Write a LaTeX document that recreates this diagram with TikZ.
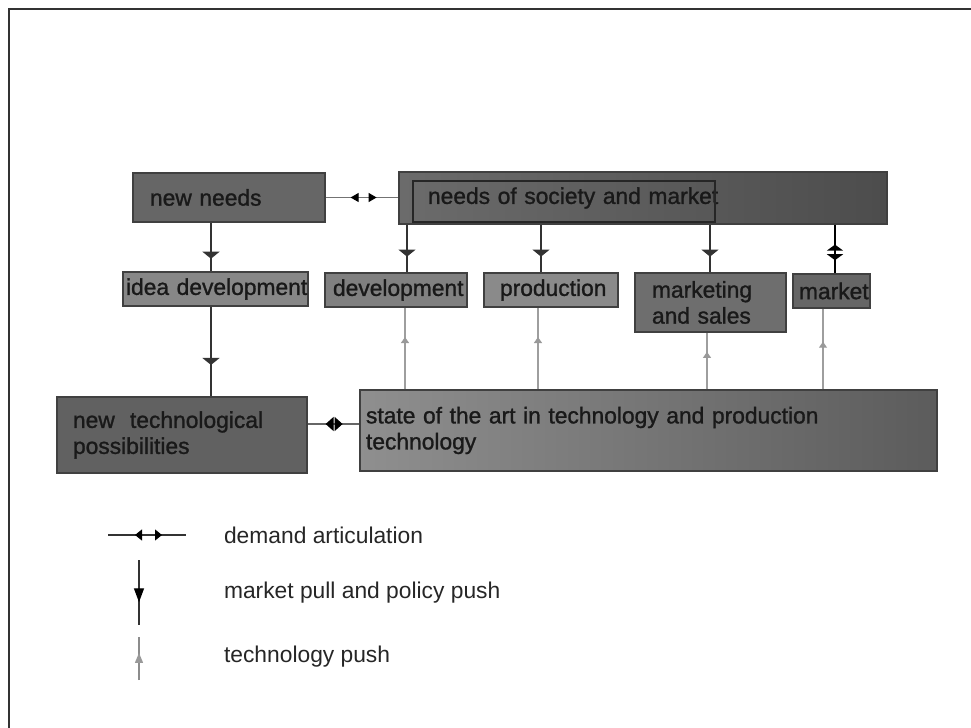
\documentclass[tikz,border=0pt]{standalone}
\usepackage{fontspec}
\setmainfont{Liberation Sans}
\newfontfamily\heavyboxfont[FakeBold=1.2]{Liberation Sans}
\usetikzlibrary{arrows.meta,decorations.markings}
\hyphenpenalty=10000
\exhyphenpenalty=10000
\begin{document}
\begin{tikzpicture}[x=0.5pt,y=-0.5pt,
  box/.style={draw=black!75, line width=0.6pt, fill=black!52, inner xsep=0pt, inner ysep=0pt,
    align=left, font=\heavyboxfont\fontsize{11.4}{13}\selectfont, text=black!90},
  pull/.style={draw=black!80, line width=0.6pt, postaction={decorate},
    decoration={markings, mark=at position #1 with {\arrow{Triangle[width=8.5pt,length=3.5pt]}}}},
  tpush/.style={draw=black!38, line width=0.6pt, postaction={decorate},
    decoration={markings, mark=at position #1 with {\arrow[black!40]{Triangle[width=4pt,length=3pt]}}}},
  legtext/.style={anchor=west, font=\fontsize{11.4}{13}\selectfont, text=black!85},
]
\useasboundingbox (0,0) rectangle (971,728);
% frame
\draw[line width=1.1pt, black!80] (9,728) -- (9,9) -- (971,9);

% boxes
\node[box, fill=black!60, minimum width=96pt, minimum height=24.5pt, text width=79pt] (nn) at (229,197.5) {new~needs};
\node[box, left color=black!58, right color=black!70, minimum width=244pt, minimum height=26pt, text width=215pt] (ns) at (643,198) {needs~of~society~and~market};
\draw[black!85, line width=0.6pt] (413,181) rectangle (715,222);
\node[box, fill=black!47, minimum width=92.5pt, minimum height=17pt, text width=89.5pt] (id) at (215.5,289) {idea~development};
\node[box, fill=black!50, minimum width=71pt, minimum height=17pt, text width=63pt] (dv) at (396,290) {development};
\node[box, fill=black!46, minimum width=67pt, minimum height=17pt, text width=51pt] (pr) at (551,290) {production};
\node[box, fill=black!57, minimum width=75.5pt, minimum height=29.5pt, text width=58.5pt] (ms) at (710.5,302.5) {marketing\\and~sales};
\node[box, fill=black!60, minimum width=38.5pt, minimum height=17pt, text width=32.5pt] (mk) at (831.5,291) {market};
\node[box, fill=black!62, minimum width=125pt, minimum height=38pt, text width=109pt] (nt) at (182,435) {new~~technological\\possibilities};
\node[box, left color=black!44, right color=black!64, minimum width=288.5pt, minimum height=40.5pt, text width=282.5pt] (sa) at (648.5,430.5) {state~of~the~art~in~technology~and~production\\technology};

% x positions of connectors
\coordinate (x1) at (211,0);
\coordinate (x2) at (407,0);
\coordinate (x3) at (541,0);
\coordinate (x4) at (710,0);
\coordinate (x5) at (835,0);
\coordinate (t2) at (405,0);
\coordinate (t3) at (538,0);
\coordinate (t4) at (707,0);
\coordinate (t5) at (823,0);
\coordinate (da) at (0,424);

% market pull / policy push
\draw[pull=0.74] (nn.south -| x1) -- (id.north -| x1);
\draw[pull=0.65] (id.south -| x1) -- (nt.north -| x1);
\draw[pull=0.67] (ns.south -| x2) -- (dv.north -| x2);
\draw[pull=0.67] (ns.south -| x3) -- (pr.north -| x3);
\draw[pull=0.67] (ns.south -| x4) -- (ms.north -| x4);
\draw[draw=black, line width=0.7pt, postaction={decorate},
  decoration={markings,
    mark=at position 0.41 with {\arrowreversed{Triangle[width=8pt,length=3pt]}},
    mark=at position 0.73 with {\arrow{Triangle[width=8pt,length=3pt]}}}]
  (ns.south -| x5) -- (mk.north -| x5);

% technology push
\draw[tpush=0.64] (sa.north -| t2) -- (dv.south -| t2);
\draw[tpush=0.64] (sa.north -| t3) -- (pr.south -| t3);
\draw[tpush=0.66] (sa.north -| t4) -- (ms.south -| t4);
\draw[tpush=0.59] (sa.north -| t5) -- (mk.south -| t5);

% demand articulation
\draw[draw=black!55, line width=0.5pt, postaction={decorate},
  decoration={markings,
    mark=at position 12.5pt with {\arrowreversed[black]{Triangle[width=4.5pt,length=4pt]}},
    mark=at position 25.5pt with {\arrow[black]{Triangle[width=4.5pt,length=4pt]}}}]
  (nn.east) -- (nn.east -| ns.west);
\draw[draw=black!60, line width=0.6pt, postaction={decorate},
  decoration={markings,
    mark=at position 9pt with {\arrowreversed[black]{Triangle[width=7pt,length=4pt]}},
    mark=at position 17.5pt with {\arrow[black]{Triangle[width=7pt,length=4pt]}}}]
  (nt.east |- da) -- (sa.west |- da);

% legend
\coordinate (la) at (108,535);
\coordinate (lb) at (186,535);
\coordinate (lc) at (139,560);
\coordinate (ld) at (139,625);
\coordinate (le) at (139,680);
\coordinate (lf) at (139,637);
\draw[draw=black!80, line width=0.6pt, postaction={decorate},
  decoration={markings,
    mark=at position 13.5pt with {\arrowreversed[black]{Triangle[width=5.5pt,length=3.5pt]}},
    mark=at position 27pt with {\arrow[black]{Triangle[width=5.5pt,length=3.5pt]}}}]
  (la) -- (lb);
\draw[draw=black!80, line width=0.7pt, postaction={decorate},
  decoration={markings, mark=at position 0.65 with {\arrow[black]{Triangle[width=5pt,length=7pt]}}}]
  (lc) -- (ld);
\draw[draw=black!45, line width=0.6pt, postaction={decorate},
  decoration={markings, mark=at position 0.63 with {\arrow[black!40]{Triangle[width=4pt,length=5pt]}}}]
  (le) -- (lf);
\node[legtext] (l1) at (217,535) {demand articulation};
\node[legtext] (l2) at (217,593) {market pull and policy push};
\node[legtext] (l3) at (217,657) {technology push};
\end{tikzpicture}
\end{document}
